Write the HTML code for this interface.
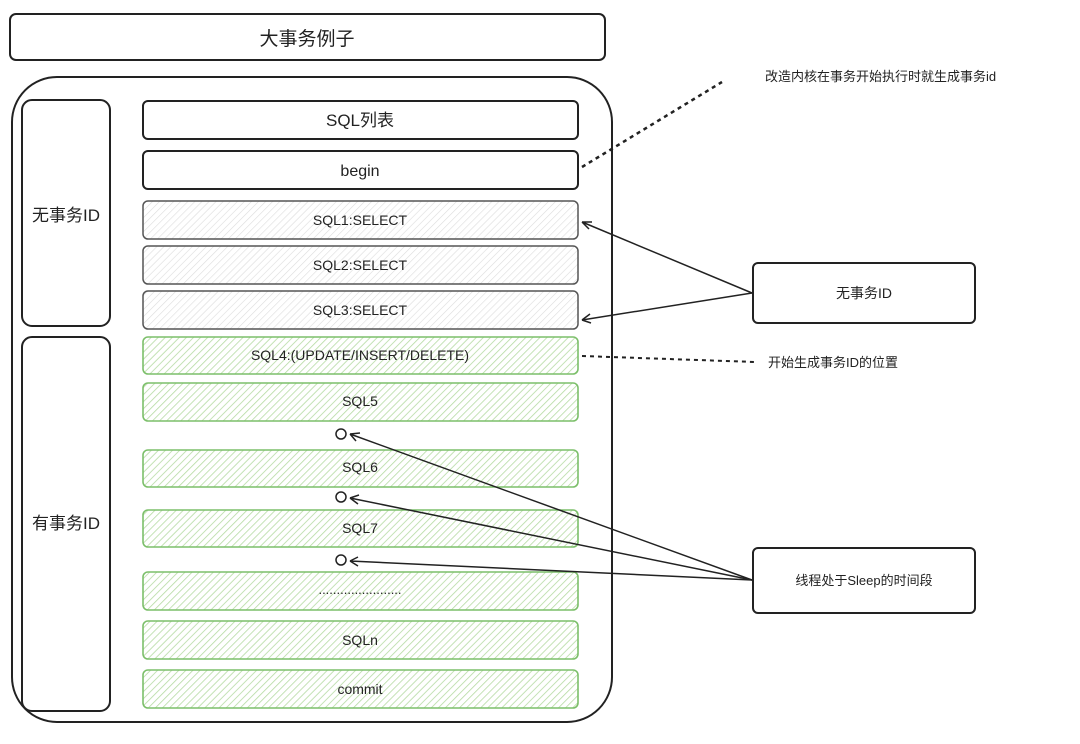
<!DOCTYPE html>
<html><head><meta charset="utf-8"><style>
body{margin:0;background:#fff;}
svg text{font-family:"Liberation Sans","Noto Sans CJK SC",sans-serif;fill:#222;}
</style></head><body>
<svg width="1080" height="739" viewBox="0 0 1080 739" xmlns="http://www.w3.org/2000/svg">
<defs>
<pattern id="hg" width="5" height="5" patternUnits="userSpaceOnUse" patternTransform="rotate(45)">
<rect width="5" height="5" fill="#fff"/><line x1="0" y1="0" x2="0" y2="5" stroke="#b5dba3" stroke-width="1.6"/></pattern>
<pattern id="hw" width="5" height="5" patternUnits="userSpaceOnUse" patternTransform="rotate(45)">
<rect width="5" height="5" fill="#fff"/><line x1="0" y1="0" x2="0" y2="5" stroke="#dcdcdc" stroke-width="1.2"/></pattern>
</defs>
<rect x="0" y="0" width="1080" height="739" fill="#fff"/>
<rect x="10" y="14" width="595" height="46" rx="6" fill="none" stroke="#222" stroke-width="2"/>
<text x="307" y="45" font-size="19" text-anchor="middle">大事务例子</text>
<rect x="12" y="77" width="600" height="645" rx="45" fill="none" stroke="#222" stroke-width="2"/>
<rect x="22" y="100" width="88" height="226" rx="10" fill="none" stroke="#222" stroke-width="2"/>
<text x="66" y="221" font-size="17" text-anchor="middle">无事务ID</text>
<rect x="22" y="337" width="88" height="374" rx="10" fill="none" stroke="#222" stroke-width="2"/>
<text x="66" y="529" font-size="17" text-anchor="middle">有事务ID</text>
<rect x="143" y="101" width="435" height="38" rx="5" fill="#fff" stroke="#222" stroke-width="2"/>
<text x="360" y="126" font-size="17" text-anchor="middle">SQL列表</text>
<rect x="143" y="151" width="435" height="38" rx="5" fill="#fff" stroke="#222" stroke-width="2"/>
<text x="360" y="176" font-size="16" text-anchor="middle">begin</text>
<g stroke="#555" stroke-width="1.5">
<rect x="143" y="201" width="435" height="38" rx="5" fill="url(#hw)"/>
<rect x="143" y="246" width="435" height="38" rx="5" fill="url(#hw)"/>
<rect x="143" y="291" width="435" height="38" rx="5" fill="url(#hw)"/>
</g>
<g font-size="14" text-anchor="middle">
<text x="360" y="225">SQL1:SELECT</text>
<text x="360" y="270">SQL2:SELECT</text>
<text x="360" y="315">SQL3:SELECT</text>
</g>
<g stroke="#7cbf6a" stroke-width="1.6">
<rect x="143" y="337" width="435" height="37" rx="5" fill="url(#hg)"/>
<rect x="143" y="383" width="435" height="38" rx="5" fill="url(#hg)"/>
<rect x="143" y="450" width="435" height="37" rx="5" fill="url(#hg)"/>
<rect x="143" y="510" width="435" height="37" rx="5" fill="url(#hg)"/>
<rect x="143" y="572" width="435" height="38" rx="5" fill="url(#hg)"/>
<rect x="143" y="621" width="435" height="38" rx="5" fill="url(#hg)"/>
<rect x="143" y="670" width="435" height="38" rx="5" fill="url(#hg)"/>
</g>
<g font-size="14" text-anchor="middle">
<text x="360" y="360">SQL4:(UPDATE/INSERT/DELETE)</text>
<text x="360" y="406">SQL5</text>
<text x="360" y="472">SQL6</text>
<text x="360" y="533">SQL7</text>
<text x="360" y="594" font-size="13">.......................</text>
<text x="360" y="645">SQLn</text>
<text x="360" y="694">commit</text>
</g>
<line x1="582" y1="167" x2="722" y2="82" stroke="#222" stroke-width="2.5" stroke-dasharray="4,4"/>
<text x="765" y="81" font-size="13">改造内核在事务开始执行时就生成事务id</text>
<line x1="582" y1="356" x2="755" y2="362" stroke="#222" stroke-width="2" stroke-dasharray="4,4"/>
<text x="768" y="367" font-size="13">开始生成事务ID的位置</text>
<rect x="753" y="263" width="222" height="60" rx="5" fill="#fff" stroke="#222" stroke-width="2"/>
<text x="864" y="298" font-size="14" text-anchor="middle">无事务ID</text>
<rect x="753" y="548" width="222" height="65" rx="5" fill="#fff" stroke="#222" stroke-width="2"/>
<text x="864" y="585" font-size="13" text-anchor="middle">线程处于Sleep的时间段</text>
<g stroke="#222" stroke-width="1.5" fill="none">
<path d="M752 293 L582 222 M582 222 l10 0 M582 222 l7 7"/>
<path d="M752 293 L582 320 M582 320 l8 -6 M582 320 l9 3"/>
<path d="M752 580 L350 434 M350 434 l10 -1 M350 434 l6 7"/>
<path d="M752 580 L350 498 M350 498 l9 -3 M350 498 l8 6"/>
<path d="M752 580 L350 561 M350 561 l8 -4 M350 561 l8 5"/>
<circle cx="341" cy="434" r="5"/><circle cx="341" cy="497" r="5"/><circle cx="341" cy="560" r="5"/>
</g>
</svg>
</body></html>
